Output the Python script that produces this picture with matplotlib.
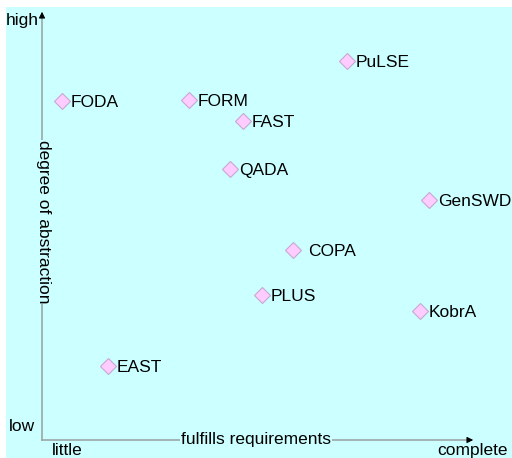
import matplotlib
matplotlib.use('Agg')
import matplotlib.pyplot as plt

plt.rcParams.update({
    'font.family': ['Liberation Sans', 'DejaVu Sans'],
    'font.size': 12.5,
})

# approaches, placed by how much they fulfil the requirements (x)
# and by their degree of abstraction (y, screen units: small = high)
names = ["FODA", "FORM", "FAST", "PuLSE", "QADA", "GenSWD",
         "COPA", "PLUS", "KobrA", "EAST"]
fulfil = [62, 189, 243, 347, 230, 429, 293, 262, 420, 108]
abstraction = [101, 100, 121, 61, 169, 200, 250, 295, 311, 366]

BG = "#CCFFFF"
AXC = "#9aa8a8"

fig = plt.figure(figsize=(5.12, 4.58), dpi=100)
ax = fig.add_axes([6/512, 0, 506/512, 451/458])
ax.set_facecolor(BG)
ax.set_xlim(6, 512)
ax.set_ylim(458, 7)
ax.axis('off')
ax.add_patch(plt.Rectangle((6, 7), 506, 451, color=BG, zorder=0))

# axes with arrows
ax.plot([42, 42], [440, 14], color=AXC, lw=1.2, zorder=1)
ax.plot([42, 470], [440, 440], color=AXC, lw=1.2, zorder=1)
ax.annotate("", xy=(42, 9), xytext=(42, 18),
            arrowprops=dict(arrowstyle="-|>", color="black", lw=0.8,
                            mutation_scale=9))
ax.annotate("", xy=(476, 440), xytext=(467, 440),
            arrowprops=dict(arrowstyle="-|>", color="black", lw=0.8,
                            mutation_scale=9))

ax.text(256, 439.5, "fulfills requirements", ha="center", va="center",
        bbox=dict(facecolor=BG, edgecolor="none", pad=0.5), zorder=2)
ax.text(43, 222, "degree of abstraction", ha="center", va="center",
        rotation=-90, bbox=dict(facecolor=BG, edgecolor="none", pad=0.5),
        zorder=2)
ax.text(6, 20.5, "high", ha="left", va="center")
ax.text(9, 426.5, "low", ha="left", va="center")
ax.text(52, 450.5, "little", ha="left", va="center")
ax.text(508, 450.5, "complete", ha="right", va="center")

ax.plot(fulfil, abstraction, linestyle="none", marker="D", markersize=8,
        markerfacecolor="#FFCCFF", markeredgecolor="#c8a8d0",
        markeredgewidth=0.8, zorder=3)
for n, x, y in zip(names, fulfil, abstraction):
    off = 11 if n == "COPA" else 6.5
    ax.annotate(n, (x, y), xytext=(off, -1.2), textcoords="offset points",
                ha="left", va="center")

fig.savefig("out.png", dpi=100)
